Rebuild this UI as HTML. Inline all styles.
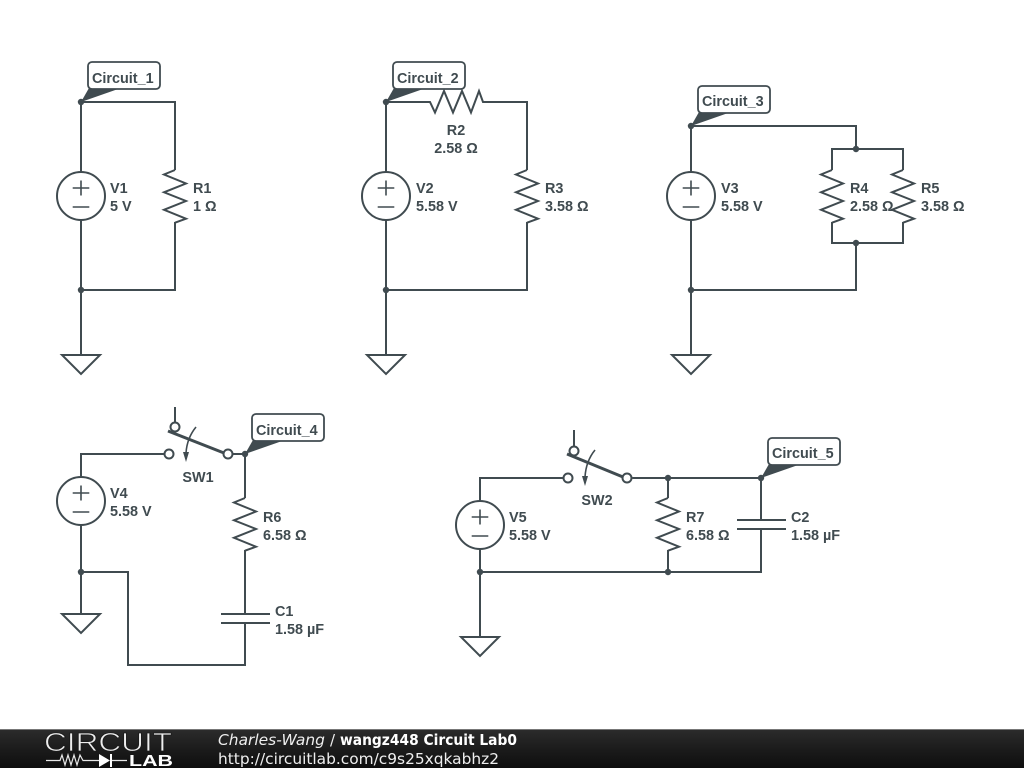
<!DOCTYPE html>
<html><head><meta charset="utf-8"><title>Circuit Lab0</title>
<style>
html,body{margin:0;padding:0;background:#fff;width:1024px;height:768px;overflow:hidden}
svg{display:block}
.main{filter:blur(0.35px)}
.w{fill:none;stroke:#404b50;stroke-width:2;stroke-linejoin:miter}
.t{fill:#404b50;font:bold 14.4px "Liberation Sans",sans-serif}
.lb{fill:#fff;stroke:#404b50;stroke-width:1.8}
.j{fill:#404b50}
.m{text-anchor:middle}
.f{font-family:"DejaVu Sans",sans-serif;fill:#eee}
</style></head><body>
<svg width="1024" height="768" viewBox="0 0 1024 768" xmlns="http://www.w3.org/2000/svg">
<defs>
<linearGradient id="g" x1="0" y1="0" x2="0" y2="1"><stop offset="0" stop-color="#2c2c2c"/><stop offset="0.5" stop-color="#1c1c1c"/><stop offset="1" stop-color="#0e0e0e"/></linearGradient>
<g id="src"><circle r="24" cx="0" cy="0" style="fill:#fff" class="w"/><path class="w" style="stroke-width:1.6" d="M-8.300 -8H8.300M0 -15.500V-0.500M-8.300 11H8.300"/></g>
<path id="rv" class="w" d="M0 0L-11 4.500 11 13.500 -11 22.300 11 31 -11 39.800 11 48.700 0 52.700"/>
<path id="gnd" class="w" d="M-19 0H19L0 19Z"/>
</defs>
<g class="main">
<!-- Circuit 1 -->
<path class="w" d="M81 102V172M81 220V355M81 102H175V170M175 222V290H81"/>
<use href="#src" x="81" y="196"/><use href="#rv" x="175" y="170"/><use href="#gnd" x="81" y="355"/>
<circle class="j" cx="81" cy="102" r="3.200"/><circle class="j" cx="81" cy="290" r="3.200"/>

<!-- Circuit 2 -->
<path class="w" d="M386 102V172M386 220V355M386 102H430L435 112.500 444 91 453 112.500 462 91 471 112.500 479 91 483 102H527V170M527 222V290H386"/>
<use href="#src" x="386" y="196"/><use href="#rv" x="527" y="170"/><use href="#gnd" x="386" y="355"/>
<circle class="j" cx="386" cy="102" r="3.200"/><circle class="j" cx="386" cy="290" r="3.200"/>

<!-- Circuit 3 -->
<path class="w" d="M691 126V172M691 220V355M691 126H856V149M832 170V149H903V170M832 222V243H903V222M856 243V290H691"/>
<use href="#src" x="691" y="196"/><use href="#rv" x="832" y="170"/><use href="#rv" x="903" y="170"/><use href="#gnd" x="691" y="355"/>
<circle class="j" cx="691" cy="126" r="3.200"/><circle class="j" cx="856" cy="149" r="3.200"/><circle class="j" cx="856" cy="243" r="3.200"/><circle class="j" cx="691" cy="290" r="3.200"/>

<!-- Circuit 4 -->
<path class="w" d="M81 477V454H165M81 525V614M81 572H128V665H245V623M245 614V550M245 498V454H232.500"/>
<use href="#src" x="81" y="501"/><use href="#rv" x="245" y="498"/><use href="#gnd" x="81" y="614"/>
<path class="w" d="M221 614H270M221 623H270"/>
<path class="w" d="M175 407V423"/>
<circle class="w" cx="175" cy="427" r="4.500"/>
<circle class="w" cx="169" cy="454" r="4.500"/>
<path class="w" style="stroke-width:3" d="M168 431L224 453"/>
<circle class="w" cx="228" cy="454" r="4.500"/>
<path class="w" style="stroke-width:1.600" d="M196 427Q187 438 186 453"/>
<path class="j" d="M183 452H189L186 462Z"/>
<circle class="j" cx="245" cy="454" r="3.200"/><circle class="j" cx="81" cy="572" r="3.200"/>

<!-- Circuit 5 -->
<path class="w" d="M480 501V478H564M480 549V637M480 572H761V529M761 520V478H632.500M668 478V498M668 550V572"/>
<use href="#src" x="480" y="525"/><use href="#rv" x="668" y="498"/><use href="#gnd" x="480" y="637"/>
<path class="w" d="M737 520H786M737 529H786"/>
<path class="w" d="M574 430V446"/>
<circle class="w" cx="574" cy="451" r="4.500"/>
<circle class="w" cx="568" cy="478" r="4.500"/>
<path class="w" style="stroke-width:3" d="M567 454L623 477"/>
<circle class="w" cx="627" cy="478" r="4.500"/>
<path class="w" style="stroke-width:1.600" d="M595 450Q586 461 585 477"/>
<path class="j" d="M582 476H588L585 486Z"/>
<circle class="j" cx="668" cy="478" r="3.200"/><circle class="j" cx="761" cy="478" r="3.200"/><circle class="j" cx="480" cy="572" r="3.200"/><circle class="j" cx="668" cy="572" r="3.200"/>

<!-- Net labels -->
<path class="j" d="M81 102L89 88H121Z"/><rect class="lb" x="88" y="62" width="72" height="27" rx="4"/><text class="t" x="92" y="83">Circuit_1</text>
<path class="j" d="M386 102L394 88H426Z"/><rect class="lb" x="393" y="62" width="72" height="27" rx="4"/><text class="t" x="397" y="83">Circuit_2</text>
<path class="j" d="M691 126L699 112H731Z"/><rect class="lb" x="698" y="86" width="72" height="27" rx="4"/><text class="t" x="702" y="106">Circuit_3</text>
<path class="j" d="M245 454L253 440H285Z"/><rect class="lb" x="252" y="414" width="72" height="27" rx="4"/><text class="t" x="256" y="435">Circuit_4</text>
<path class="j" d="M761 478L769 464H801Z"/><rect class="lb" x="768" y="438" width="72" height="27" rx="4"/><text class="t" x="772" y="458">Circuit_5</text>

<!-- Component labels -->
<text class="t" x="110" y="193">V1</text><text class="t" x="110" y="211">5 V</text>
<text class="t" x="193" y="193">R1</text><text class="t" x="193" y="211">1 Ω</text>
<text class="t m" x="456" y="135">R2</text><text class="t m" x="456" y="153">2.58 Ω</text>
<text class="t" x="416" y="193">V2</text><text class="t" x="416" y="211">5.58 V</text>
<text class="t" x="545" y="193">R3</text><text class="t" x="545" y="211">3.58 Ω</text>
<text class="t" x="721" y="193">V3</text><text class="t" x="721" y="211">5.58 V</text>
<text class="t" x="850" y="193">R4</text><text class="t" x="850" y="211">2.58 Ω</text>
<text class="t" x="921" y="193">R5</text><text class="t" x="921" y="211">3.58 Ω</text>
<text class="t" x="110" y="498">V4</text><text class="t" x="110" y="516">5.58 V</text>
<text class="t m" x="198" y="482">SW1</text>
<text class="t" x="263" y="522">R6</text><text class="t" x="263" y="540">6.58 Ω</text>
<text class="t" x="275" y="616">C1</text><text class="t" x="275" y="634">1.58 µF</text>
<text class="t" x="509" y="522">V5</text><text class="t" x="509" y="540">5.58 V</text>
<text class="t m" x="597" y="505">SW2</text>
<text class="t" x="686" y="522">R7</text><text class="t" x="686" y="540">6.58 Ω</text>
<text class="t" x="791" y="522">C2</text><text class="t" x="791" y="540">1.58 µF</text>
</g>

<!-- Footer -->
<rect x="0" y="729" width="1024" height="39" fill="url(#g)"/>
<rect x="0" y="729" width="1024" height="1" fill="#777"/>
<text x="44" y="751" textLength="128" lengthAdjust="spacingAndGlyphs" style="font:26px 'Liberation Sans',sans-serif;fill:#eee;stroke:#1c1c1c;stroke-width:0.8">CIRCUIT</text>
<path d="M46 760.500H60L62 755 65 765 68 755 71 765 74 755 77 765 80 755 83 760.500H99M112 760.500H127" fill="none" stroke="#e8e8e8" stroke-width="1.200"/>
<path d="M99 754L110 760.500 99 767Z" fill="#fff"/><rect x="110" y="754" width="2" height="13" fill="#fff"/>
<text x="129" y="766" textLength="44" lengthAdjust="spacingAndGlyphs" style="font:bold 15.500px 'Liberation Sans',sans-serif;fill:#fff">LAB</text>
<text class="f" x="218" y="745" textLength="107" lengthAdjust="spacingAndGlyphs" style="font-size:15.300px;font-style:italic">Charles-Wang</text>
<text class="f" x="330" y="745" style="font-size:15px">/</text>
<text class="f" x="340" y="745" textLength="177" lengthAdjust="spacingAndGlyphs" style="font-size:15px;font-weight:bold;fill:#fff">wangz448 Circuit Lab0</text>
<text class="f" x="218" y="764" textLength="281" lengthAdjust="spacingAndGlyphs" style="font-size:15.400px">http://circuitlab.com/c9s25xqkabhz2</text>
</svg>
</body></html>
